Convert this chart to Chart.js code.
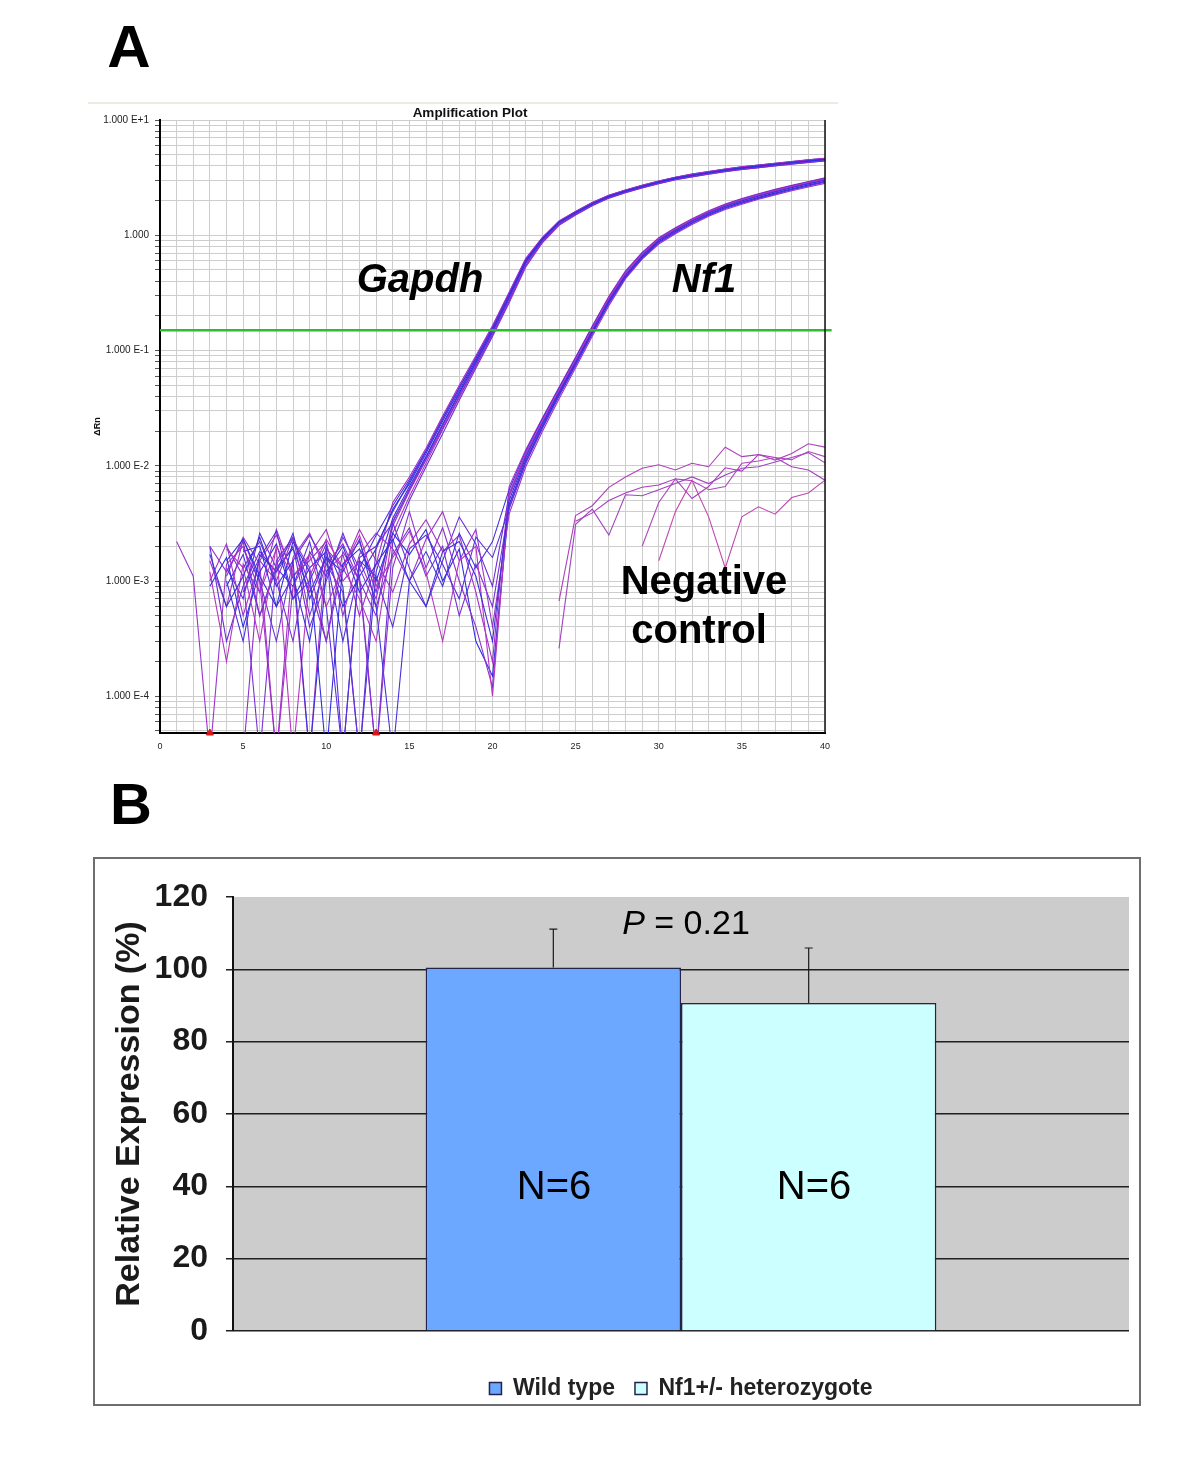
<!DOCTYPE html>
<html>
<head>
<meta charset="utf-8">
<script src="https://cdn.jsdelivr.net/npm/chart.js@4.4.0/dist/chart.umd.min.js"></script>
<style>
  body { margin: 0; background: #fff; font-family: "Liberation Sans", Arial, sans-serif; }
  #page { position: relative; width: 1200px; height: 1483px; overflow: hidden; }
  .txt { position: absolute; line-height: 1; white-space: nowrap; color: #000; text-align: center; }
  canvas { position: absolute; }
</style>
</head>
<body>
<div id="page">
  <div class="txt" style="left:99px;top:17px;width:60px;font-size:60px;font-weight:bold;">A</div>
  <div style="position:absolute;left:88px;top:102px;width:750px;height:2px;background:#ecebdf;"></div>
  <canvas id="amp" width="760" height="665" style="left:88px;top:100px;"></canvas>
  <div class="txt" style="left:370px;top:106px;width:200px;font-size:13.5px;font-weight:bold;color:#111;">Amplification Plot</div>
  <div class="txt" style="left:320px;top:258px;width:200px;font-size:40px;font-weight:bold;font-style:italic;">Gapdh</div>
  <div class="txt" style="left:604px;top:258px;width:200px;font-size:40px;font-weight:bold;font-style:italic;">Nf1</div>
  <div class="txt" style="left:604px;top:560px;width:200px;font-size:40px;font-weight:bold;">Negative</div>
  <div class="txt" style="left:599px;top:609px;width:200px;font-size:40px;font-weight:bold;">control</div>

  <div class="txt" style="left:101px;top:775px;width:60px;font-size:58px;font-weight:bold;">B</div>
  <div style="position:absolute;left:93px;top:857px;width:1044px;height:545px;border:2px solid #6e6e6e;"></div>
  <canvas id="bars" width="1044" height="551" style="left:95px;top:859px;"></canvas>
  <div class="txt" style="left:586px;top:905px;width:200px;font-size:34px;"><i>P</i> = 0.21</div>
  <div class="txt" style="left:454px;top:1165px;width:200px;font-size:40px;">N=6</div>
  <div class="txt" style="left:714px;top:1165px;width:200px;font-size:40px;">N=6</div>
</div>
<script>
const FONT = "'Liberation Sans', Arial, sans-serif";
const n = null;

// ---- panel A: amplification plot (delta Rn, log scale) ----
const cycles = [1,2,3,4,5,6,7,8,9,10,11,12,13,14,15,16,17,18,19,20,
                21,22,23,24,25,26,27,28,29,30,31,32,33,34,35,36,37,38,39,40];

// Gapdh wells: baseline noise to cycle 13, then amplification
const gapdh1 = [n,n,9e-4,1.6e-3,4e-4,1.2e-3,2.1e-3,7e-4,1.3e-3,1.8e-3,6e-4,1.1e-3,1.9e-3,
  4.2e-3,7.0e-3,0.0128,0.0245,0.045,0.082,0.152,0.3,0.6,0.93,1.3,1.58,1.88,2.18,2.42,2.66,2.9,3.13,3.32,3.5,3.68,3.84,3.98,4.13,4.28,4.42,4.56];
const gapdh2 = [n,n,n,2.0e-3,1.1e-3,3e-5,1.5e-3,2.4e-3,9e-4,3e-4,1.4e-3,2.2e-3,8e-4,
  3.0e-3,6.0e-3,0.0112,0.021,0.040,0.074,0.138,0.27,0.55,0.88,1.24,1.52,1.82,2.11,2.35,2.58,2.81,3.04,3.22,3.4,3.57,3.73,3.86,4.01,4.15,4.29,4.43];
const gapdh3 = [n,n,1.5e-3,6e-4,2.3e-3,1.0e-3,3e-5,1.6e-3,2.6e-3,1.2e-3,1.7e-3,5e-4,1.4e-3,
  4.8e-3,8.0e-3,0.0142,0.027,0.05,0.09,0.165,0.32,0.63,0.96,1.33,1.61,1.92,2.22,2.47,2.71,2.96,3.19,3.39,3.57,3.75,3.92,4.06,4.21,4.37,4.51,4.65];
const gapdh4 = [n,n,n,n,1.8e-3,2.0e-3,6e-4,1.1e-3,3e-4,2.0e-3,9e-4,3e-5,1.2e-3,
  3.5e-3,6.6e-3,0.012,0.023,0.043,0.079,0.147,0.29,0.58,0.91,1.28,1.56,1.86,2.16,2.4,2.63,2.87,3.1,3.29,3.47,3.64,3.8,3.94,4.09,4.24,4.38,4.51];
const gapdh5 = [n,n,1.2e-3,2e-4,1.4e-3,8e-4,1.9e-3,3e-5,1.1e-3,2.3e-3,1.3e-3,7e-4,3e-4,
  2.6e-3,5.4e-3,0.0105,0.0205,0.039,0.073,0.137,0.265,0.54,0.87,1.23,1.52,1.83,2.13,2.37,2.6,2.84,3.07,3.25,3.43,3.61,3.76,3.9,4.05,4.19,4.33,4.47];
const gapdh6 = [n,n,n,1.3e-3,7e-4,2.6e-3,1.3e-3,9e-4,2.2e-3,6e-4,3e-5,1.6e-3,2.0e-3,
  4.0e-3,7.3e-3,0.0133,0.0255,0.047,0.085,0.157,0.31,0.61,0.94,1.31,1.6,1.9,2.2,2.44,2.69,2.93,3.16,3.35,3.54,3.72,3.88,4.02,4.17,4.32,4.46,4.61];
const gapdh7 = [n,n,n,n,3e-5,1.5e-3,1.0e-3,2.4e-3,5e-4,1.4e-3,2.1e-3,1.0e-3,5e-4,
  3.2e-3,6.3e-3,0.0118,0.0225,0.042,0.077,0.143,0.28,0.57,0.9,1.27,1.55,1.85,2.15,2.39,2.62,2.86,3.09,3.28,3.46,3.63,3.79,3.93,4.08,4.23,4.37,4.5];
const gapdh8 = [n,n,n,9e-4,1.7e-3,5e-4,1.3e-3,1.9e-3,8e-4,1.6e-3,3e-4,1.3e-3,2.5e-3,
  4.5e-3,7.6e-3,0.0136,0.026,0.048,0.087,0.16,0.315,0.62,0.95,1.32,1.61,1.92,2.22,2.47,2.71,2.96,3.19,3.39,3.57,3.75,3.92,4.06,4.21,4.37,4.51,4.65];
const gapdh9 = [n,n,n,1.1e-3,2.4e-3,1.4e-3,3e-5,9e-4,1.7e-3,2.8e-3,1.0e-3,1.5e-3,7e-4,
  3.3e-3,6.2e-3,0.0116,0.022,0.042,0.078,0.146,0.29,0.59,0.92,1.29,1.57,1.87,2.17,2.41,2.65,2.89,3.12,3.31,3.49,3.67,3.83,3.97,4.12,4.27,4.41,4.55];
const gapdh10 = [n,n,2.0e-3,3e-4,9e-4,1.8e-3,1.2e-3,2.0e-3,4e-4,1.0e-3,2.6e-3,1.1e-3,3e-5,
  2.2e-3,5.0e-3,0.0098,0.019,0.037,0.07,0.132,0.26,0.53,0.86,1.22,1.5,1.8,2.1,2.34,2.57,2.8,3.03,3.21,3.39,3.56,3.72,3.85,4.0,4.14,4.28,4.42];

// Nf1 wells: baseline noise to cycle 20, then amplification
const nf1a = [n,n,1.7e-3,6e-4,1.1e-3,2.4e-3,9e-4,1.5e-3,3e-5,1.2e-3,2.0e-3,8e-4,1.4e-3,2.3e-3,1.0e-3,6e-4,1.8e-3,2.2e-3,1.1e-3,3e-4,
  5.0e-3,0.0118,0.023,0.043,0.079,0.147,0.27,0.45,0.66,0.9,1.1,1.32,1.55,1.78,1.98,2.18,2.38,2.58,2.79,3.0];
const nf1b = [n,n,n,1.9e-3,1.3e-3,3e-4,2.0e-3,1.1e-3,1.7e-3,6e-4,1.3e-3,2.5e-3,9e-4,1.6e-3,2.7e-3,1.2e-3,3e-4,1.5e-3,2.0e-3,1.0e-4,
  5.8e-3,0.0128,0.0245,0.0455,0.083,0.155,0.285,0.47,0.69,0.93,1.14,1.36,1.6,1.83,2.04,2.25,2.45,2.66,2.87,3.09];
const nf1c = [n,n,n,n,8e-4,1.6e-3,2.7e-3,7e-4,1.0e-3,2.1e-3,3e-5,1.5e-3,1.1e-3,4e-4,1.9e-3,2.5e-3,1.4e-3,7e-4,2.4e-3,1.6e-3,
  4.2e-3,0.0105,0.021,0.04,0.074,0.139,0.255,0.43,0.63,0.86,1.05,1.27,1.49,1.71,1.9,2.09,2.28,2.48,2.68,2.88];
const nf1d = [n,n,2.0e-3,1.2e-3,2.2e-3,5e-4,1.4e-3,2.3e-3,1.3e-3,3e-4,1.8e-3,1.0e-3,3e-5,1.3e-3,4.0e-3,1.3e-3,2.9e-3,1.0e-3,4e-4,1.2e-4,
  5.4e-3,0.0122,0.0235,0.044,0.081,0.15,0.275,0.455,0.67,0.91,1.11,1.33,1.57,1.8,2.0,2.2,2.4,2.61,2.82,3.03];
const nf1e = [n,n,n,1.0e-3,3e-4,1.7e-3,1.2e-3,2.6e-3,7e-4,1.6e-3,1.2e-3,2.3e-3,6e-4,3e-5,1.0e-3,1.8e-3,9e-4,2.6e-3,1.3e-3,2.2e-3,
  6.2e-3,0.0133,0.0255,0.047,0.086,0.16,0.29,0.48,0.7,0.94,1.15,1.37,1.61,1.85,2.06,2.27,2.48,2.68,2.9,3.12];
const nf1f = [2.2e-3,1.1e-3,3e-5,1.4e-3,2.0e-3,8e-4,2.8e-3,1.1e-3,1.5e-3,2.2e-3,5e-4,1.7e-3,2.6e-3,1.9e-3,1.0e-3,2.3e-3,4.0e-3,1.5e-3,2.8e-3,4e-4,
  3.8e-3,0.0098,0.0198,0.038,0.071,0.133,0.245,0.42,0.62,0.84,1.03,1.24,1.46,1.67,1.86,2.05,2.24,2.43,2.62,2.82];
const nf1g = [n,n,n,n,1.9e-3,1.0e-3,3e-4,1.5e-3,2.5e-3,1.4e-3,8e-4,3e-5,2.0e-3,3.2e-3,1.3e-3,6e-4,1.5e-3,3.6e-3,2.1e-3,9e-4,
  5.6e-3,0.0125,0.024,0.045,0.082,0.152,0.28,0.46,0.68,0.92,1.12,1.35,1.58,1.82,2.02,2.22,2.43,2.63,2.85,3.06];
const nf1h = [n,n,n,1.5e-3,2.3e-3,1.1e-3,6e-4,2.2e-3,1.2e-3,3e-5,1.4e-3,1.9e-3,1.0e-3,2.6e-3,1.7e-3,2.8e-3,1.0e-3,1.9e-3,3.0e-4,1.5e-4,
  4.6e-3,0.0112,0.022,0.042,0.078,0.145,0.265,0.44,0.65,0.88,1.08,1.29,1.52,1.74,1.94,2.14,2.33,2.53,2.73,2.94];
const nf1i = [n,n,n,n,1.3e-3,2.2e-3,1.0e-3,3e-4,1.8e-3,1.1e-3,2.4e-3,1.3e-3,6e-4,1.7e-3,2.9e-3,1.1e-3,2.0e-3,5e-4,1.4e-3,6e-4,
  4.4e-3,0.0108,0.0215,0.041,0.076,0.141,0.26,0.435,0.64,0.87,1.07,1.28,1.5,1.73,1.92,2.11,2.31,2.5,2.71,2.91];
const nf1j = [n,n,1.0e-3,2.1e-3,5e-4,1.5e-3,2.5e-3,1.2e-3,3e-5,1.9e-3,1.3e-3,2.8e-3,1.5e-3,8e-4,2.1e-3,3.4e-3,1.8e-3,2.5e-3,8e-4,2.0e-4,
  6.6e-3,0.0138,0.026,0.048,0.088,0.163,0.295,0.49,0.71,0.95,1.16,1.39,1.63,1.87,2.08,2.29,2.5,2.71,2.93,3.15];

// negative controls, cycles 24-40
const negCycles = [24,25,26,27,28,29,30,31,32,33,34,35,36,37,38,39,40];
const neg1 = [6.7e-4,3.7e-3,4.5e-3,6.5e-3,8.0e-3,9.5e-3,0.0102,0.0092,0.0105,0.0098,0.0145,0.012,0.0125,0.0112,0.0128,0.0155,0.0145];
const neg2 = [2.6e-4,3.1e-3,4.2e-3,2.5e-3,5.6e-3,5.5e-3,6.2e-3,7.0e-3,8.0e-3,7.0e-3,8.3e-3,9.5e-3,0.0098,0.0108,0.0118,0.013,0.0106];
const neg3 = [n,n,n,n,n,n,1.5e-3,4.0e-3,7.5e-3,3.6e-3,1.3e-3,3.6e-3,4.4e-3,3.8e-3,5.3e-3,5.8e-3,7.5e-3];
const neg4 = [n,n,n,n,n,2.0e-3,4.8e-3,7.7e-3,7.4e-3,6.2e-3,6.6e-3,0.0105,0.011,0.0118,0.0113,0.0133,0.012];
const neg5 = [n,3.3e-3,3.9e-3,5.0e-3,5.8e-3,6.5e-3,6.8e-3,7.7e-3,5.2e-3,6.6e-3,9.6e-3,9.0e-3,0.0125,0.0118,0.0098,0.0092,0.0075];

const threshold = 0.15;
const baselineMarks = [3, 13];
const cycleTickLabels = [0, 5, 10, 15, 20, 25, 30, 35, 40];
const decadeLabels = ['1.000 E-4', '1.000 E-3', '1.000 E-2', '1.000 E-1', '1.000', '1.000 E+1'];

const gapdhRuns = [gapdh1, gapdh2, gapdh3, gapdh4, gapdh5, gapdh6, gapdh7, gapdh8, gapdh9, gapdh10];
const nf1Runs = [nf1a, nf1b, nf1c, nf1d, nf1e, nf1f, nf1g, nf1h, nf1i, nf1j];
const negRuns = [neg1, neg2, neg3, neg4, neg5];

const yMin = 4.8e-5, yMax = 10;
const runColors = ['#2f2fe0', '#7a30d4', '#a42fc8', '#3b30da', '#b535c0', '#5a2fdc', '#8c30ce', '#4631de', '#9a34cc', '#6a2fd8'];
const negColors = ['#b040b8', '#a044c0', '#c046b0', '#b048bc', '#a83cc0'];

function curve(xs, ys, color) {
  return {
    data: xs.map((x, i) => ({ x: x, y: ys[i] })),
    borderColor: color, borderWidth: 1.1, pointRadius: 0, tension: 0, order: 2
  };
}

const ampSets = [
  { data: [{ x: 0, y: threshold }, { x: 40.4, y: threshold }], borderColor: '#2cbf2c',
    borderWidth: 2.5, pointRadius: 0, clip: false, order: 0 },
  { data: baselineMarks.map(c => ({ x: c, y: yMin })), showLine: false, pointStyle: 'triangle',
    pointRadius: 4, backgroundColor: '#e01515', borderColor: '#e01515', clip: false, order: 0 }
];
negRuns.forEach((r, i) => ampSets.push(curve(negCycles, r, negColors[i])));
nf1Runs.forEach((r, i) => ampSets.push(curve(cycles, r, runColors[(i + 3) % runColors.length])));
gapdhRuns.forEach((r, i) => ampSets.push(curve(cycles, r, runColors[i])));

const logTicks = [];
for (let e = -5; e <= 1; e++) {
  for (let s = 1; s <= 9; s++) {
    const v = s * Math.pow(10, e);
    if (v >= yMin && v <= yMax * 1.0001) logTicks.push({ value: v, major: s === 1, sig: s, exp: e });
  }
}

const rightEdge = {
  id: 'rightEdge',
  afterDraw(chart) {
    const a = chart.chartArea, ctx = chart.ctx;
    ctx.save();
    ctx.strokeStyle = '#111';
    ctx.lineWidth = 1.5;
    ctx.beginPath();
    ctx.moveTo(a.right, a.top);
    ctx.lineTo(a.right, a.bottom);
    ctx.stroke();
    ctx.restore();
  }
};

new Chart(document.getElementById('amp'), {
  type: 'line',
  data: { datasets: ampSets },
  plugins: [rightEdge],
  options: {
    responsive: false, animation: false, events: [],
    layout: { padding: { top: 20, right: 23, left: 0, bottom: 0 } },
    plugins: { legend: { display: false }, tooltip: { enabled: false } },
    scales: {
      x: {
        type: 'linear', min: 0, max: 40,
        afterBuildTicks: s => { s.ticks = [0].concat(cycles).map(v => ({ value: v })); },
        afterFit: s => { s.height = 32; },
        ticks: { autoSkip: false, maxRotation: 0, padding: 8, color: '#222',
          font: { family: FONT, size: 9 },
          callback: v => cycleTickLabels.includes(v) ? String(v) : '' },
        grid: { color: '#cdcdcd', drawTicks: false },
        border: { color: '#000', width: 2 }
      },
      y: {
        type: 'logarithmic', min: yMin, max: yMax,
        afterBuildTicks: s => { s.ticks = logTicks.map(t => Object.assign({}, t)); },
        afterFit: s => { s.width = 72; },
        ticks: { autoSkip: false, padding: 6, color: '#222',
          font: { family: FONT, size: 10 },
          callback: (v, i, t) => t[i].sig === 1 ? decadeLabels[t[i].exp + 4] : '' },
        grid: { color: '#cdcdcd', tickColor: '#555', tickLength: 5 },
        border: { color: '#000', width: 2 },
        title: { display: true, text: 'ΔRn', color: '#111',
          font: { family: FONT, size: 9, weight: 'bold' }, padding: 4 }
      }
    }
  }
});

// ---- panel B: relative Nf1 expression ----
const groups = [''];
const seriesNames = ['Wild type', 'Nf1+/- heterozygote'];
const means = [100.5, 90.7];
const errors = [10.6, 15.2];
const barColors = ['#6ca8ff', '#ccffff'];

const plotBg = {
  id: 'plotBg',
  beforeDraw(chart) {
    const a = chart.chartArea, ctx = chart.ctx;
    ctx.save();
    ctx.fillStyle = '#cccccc';
    ctx.fillRect(a.left, a.top, a.right - a.left, a.bottom - a.top);
    ctx.restore();
  }
};

const errBars = {
  id: 'errBars',
  afterDatasetsDraw(chart) {
    const ctx = chart.ctx, y = chart.scales.y;
    ctx.save();
    ctx.strokeStyle = '#1a1a1a';
    ctx.lineWidth = 1.2;
    chart.data.datasets.forEach((ds, i) => {
      const bar = chart.getDatasetMeta(i).data[0];
      const top = y.getPixelForValue(ds.data[0] + errors[i]);
      ctx.beginPath();
      ctx.moveTo(bar.x, bar.y);
      ctx.lineTo(bar.x, top);
      ctx.moveTo(bar.x - 4, top);
      ctx.lineTo(bar.x + 4, top);
      ctx.stroke();
    });
    ctx.restore();
  }
};

new Chart(document.getElementById('bars'), {
  type: 'bar',
  data: {
    labels: groups,
    datasets: seriesNames.map((name, i) => ({
      label: name, data: [means[i]], backgroundColor: barColors[i],
      borderColor: '#22244a', borderWidth: 1.5,
      categoryPercentage: 0.57, barPercentage: 1
    }))
  },
  plugins: [plotBg, errBars],
  options: {
    responsive: false, animation: false, events: [],
    layout: { padding: { top: 38, right: 10, left: 0, bottom: 0 } },
    plugins: {
      tooltip: { enabled: false },
      legend: { position: 'bottom', fullSize: false,
        labels: { boxWidth: 12, boxHeight: 12, padding: 20, color: '#222',
          font: { family: FONT, size: 23, weight: 'bold' } } }
    },
    scales: {
      x: {
        grid: { display: false }, border: { display: false }, ticks: { display: false },
        afterFit: s => { s.height = 26; }
      },
      y: {
        min: 0, max: 120,
        afterFit: s => { s.width = 138; },
        ticks: { stepSize: 20, padding: 18, color: '#1a1a1a',
          font: { family: FONT, size: 32, weight: 'bold' } },
        grid: { color: c => c.tick.value === 120 ? 'rgba(0,0,0,0)' : '#1f1f1f',
          lineWidth: 1.5, tickLength: 7, tickColor: '#1f1f1f' },
        border: { color: '#111', width: 2 },
        title: { display: true, text: 'Relative Expression (%)', color: '#1a1a1a',
          font: { family: FONT, size: 34, weight: 'bold' }, padding: 14 }
      }
    }
  }
});
</script>
</body>
</html>
